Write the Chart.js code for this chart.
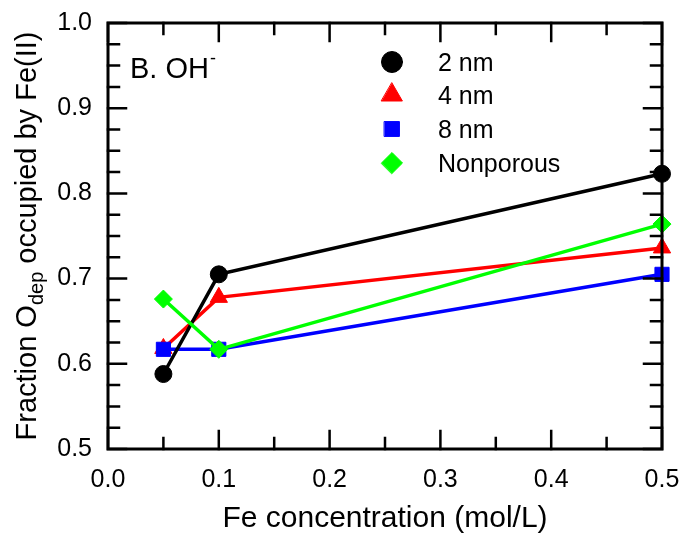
<!DOCTYPE html>
<html>
<head>
<meta charset="utf-8">
<script src="https://cdn.jsdelivr.net/npm/chart.js@4.4.1/dist/chart.umd.min.js"></script>
<style>
  body { margin: 0; background: #fff; }
  #wrap { width: 685px; height: 537px; }
</style>
</head>
<body>
<div id="wrap"><canvas id="chart" width="685" height="537"></canvas></div>
<script>
// data
const feConc = [0.05, 0.1, 0.5];
const pore2nm = [0.588, 0.705, 0.823];
const pore4nm = [0.618, 0.678, 0.736];
const pore8nm = [0.617, 0.617, 0.705];
const nonporous = [0.676, 0.617, 0.764];
const seriesNames = ['2 nm', '4 nm', '8 nm', 'Nonporous'];
const xTicks = [0.0, 0.1, 0.2, 0.3, 0.4, 0.5];
const yTicks = [0.5, 0.6, 0.7, 0.8, 0.9, 1.0];

const FONT = "Arial, 'Liberation Sans', sans-serif";

function pts(ys) {
    return feConc.map((x, i) => ({ x: x, y: ys[i] }));
}

const styles = [
    { color: '#000000', pointStyle: 'circle', radius: 8.5, legendRadius: 10.5, order: 1 },
    { color: '#ff0000', pointStyle: 'triangle', radius: 10, legendRadius: 12, order: 3 },
    { color: '#0000ff', pointStyle: 'rect', radius: 10, legendRadius: 10.5, order: 2 },
    { color: '#00ff00', pointStyle: 'rectRot', radius: 9, legendRadius: 10.5, order: 0 }
];

const datasets = [pore2nm, pore4nm, pore8nm, nonporous].map((ys, i) => ({
    label: seriesNames[i],
    data: pts(ys),
    borderColor: styles[i].color,
    backgroundColor: styles[i].color,
    borderWidth: 3.5,
    pointStyle: styles[i].pointStyle,
    pointRadius: styles[i].radius,
    pointBorderWidth: 1,
    pointBorderColor: styles[i].color,
    pointBackgroundColor: styles[i].color,
    tension: 0,
    clip: false,
    order: styles[i].order
}));

// frame, inward ticks, y title with subscript, legend and panel label
const decorations = {
    id: 'decorations',
    afterDraw(chart) {
        const ctx = chart.ctx;
        const a = chart.chartArea;
        const xs = chart.scales.x, ys = chart.scales.y;
        ctx.save();
        ctx.strokeStyle = '#000';
        ctx.lineCap = 'square';

        // ticks
        ctx.lineWidth = 2.5;
        ctx.beginPath();
        for (let k = 0; k <= 10; k++) {
            const v = k * 0.05;
            const len = k % 2 === 0 ? 18 : 11;
            const px = xs.getPixelForValue(v);
            ctx.moveTo(px, a.bottom); ctx.lineTo(px, a.bottom - len);
            ctx.moveTo(px, a.top); ctx.lineTo(px, a.top + len);
        }
        for (let k = 0; k <= 20; k++) {
            const v = 0.5 + k * 0.025;
            const len = k % 4 === 0 ? 18 : 11;
            const py = ys.getPixelForValue(v);
            ctx.moveTo(a.left, py); ctx.lineTo(a.left + len, py);
            ctx.moveTo(a.right, py); ctx.lineTo(a.right - len, py);
        }
        ctx.stroke();

        // frame
        ctx.lineWidth = 3;
        ctx.strokeRect(a.left, a.top, a.right - a.left, a.bottom - a.top);

        // y axis title
        ctx.fillStyle = '#000';
        ctx.textBaseline = 'alphabetic';
        const big = '29px ' + FONT, small = '20px ' + FONT;
        const parts = [
            { t: 'Fraction O', f: big, dy: 0 },
            { t: 'dep', f: small, dy: 7 },
            { t: ' occupied by Fe(II)', f: big, dy: 0 }
        ];
        let total = 0;
        parts.forEach(p => { ctx.font = p.f; p.w = ctx.measureText(p.t).width; total += p.w; });
        ctx.save();
        ctx.translate(36, (a.top + a.bottom) / 2);
        ctx.rotate(-Math.PI / 2);
        let cx = -total / 2;
        parts.forEach(p => {
            ctx.font = p.f;
            ctx.textAlign = 'left';
            ctx.fillText(p.t, cx, p.dy);
            cx += p.w;
        });
        ctx.restore();

        // panel label "B. OH-"
        ctx.font = '29px ' + FONT;
        ctx.textAlign = 'left';
        const lab = 'B. OH';
        ctx.fillText(lab, 130, 78);
        const lw = ctx.measureText(lab).width;
        ctx.font = '18px ' + FONT;
        ctx.fillText('-', 130 + lw + 1, 64);

        // legend
        const rowY = [62, 95, 129, 163];
        chart.data.datasets.forEach((ds, i) => {
            ctx.fillStyle = styles[i].color;
            ctx.strokeStyle = styles[i].color;
            ctx.lineWidth = 1;
            Chart.helpers.drawPoint(ctx, {
                pointStyle: styles[i].pointStyle,
                radius: styles[i].legendRadius,
                rotation: 0,
                borderWidth: 1
            }, 392, rowY[i]);
            ctx.fillStyle = '#000';
            ctx.font = '25px ' + FONT;
            ctx.textAlign = 'left';
            ctx.fillText(ds.label, 438, rowY[i] + 9);
        });
        ctx.restore();
    }
};

new Chart(document.getElementById('chart'), {
    type: 'line',
    data: { datasets: datasets },
    options: {
        responsive: false,
        animation: false,
        layout: { padding: { top: 23, right: 23, left: 0, bottom: 0 } },
        plugins: {
            legend: { display: false },
            tooltip: { enabled: false }
        },
        scales: {
            x: {
                type: 'linear',
                min: 0,
                max: 0.5,
                afterFit: s => {
                    s.height = 88;
                    s.paddingLeft = 0; s.paddingRight = 0;
                },
                afterBuildTicks: s => { s.ticks = xTicks.map(v => ({ value: v })); },
                grid: { display: false, drawTicks: false },
                border: { display: false },
                ticks: {
                    padding: 16,
                    color: '#000',
                    font: { family: FONT, size: 25 },
                    maxRotation: 0,
                    callback: v => Number(v).toFixed(1)
                },
                title: {
                    display: true,
                    text: 'Fe concentration (mol/L)',
                    color: '#000',
                    font: { family: FONT, size: 30 },
                    padding: { top: 0, bottom: 0 }
                }
            },
            y: {
                type: 'linear',
                min: 0.5,
                max: 1.0,
                afterFit: s => {
                    s.width = 108;
                    s.paddingTop = 0; s.paddingBottom = 0;
                },
                afterBuildTicks: s => { s.ticks = yTicks.map(v => ({ value: v })); },
                grid: { display: false, drawTicks: false },
                border: { display: false },
                ticks: {
                    padding: 16,
                    color: '#000',
                    font: { family: FONT, size: 25 },
                    callback: v => Number(v).toFixed(1)
                }
            }
        }
    },
    plugins: [decorations]
});
</script>
</body>
</html>
